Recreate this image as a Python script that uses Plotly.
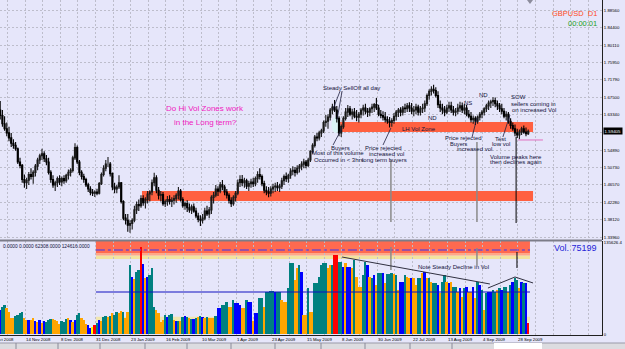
import plotly.graph_objects as go

# ---------------- data ----------------
bars = list(range(6, 247))  # bar number in chart (no weekend gaps)

opens = [
 1.645,1.632,1.612,1.600,1.590,1.578,1.565,1.560,1.552,1.520,
 1.512,1.478,1.470,1.476,1.490,1.485,1.495,1.510,1.525,1.535,
 1.540,1.528,1.520,1.495,1.478,1.465,1.470,1.480,1.472,1.480,
 1.475,1.488,1.495,1.500,1.530,1.555,1.520,1.495,1.485,1.478,
 1.465,1.455,1.447,1.445,1.448,1.445,1.468,1.490,1.505,1.515,
 1.515,1.492,1.460,1.455,1.460,1.470,1.425,1.385,1.380,1.368,
 1.372,1.380,1.405,1.418,1.415,1.432,1.422,1.430,1.443,1.448,
 1.470,1.482,1.452,1.440,1.442,1.420,1.425,1.430,1.425,1.428,
 1.432,1.440,1.450,1.430,1.415,1.420,1.410,1.405,1.412,1.402,
 1.390,1.382,1.380,1.385,1.402,1.395,1.405,1.435,1.440,1.455,
 1.450,1.465,1.460,1.448,1.440,1.428,1.420,1.435,1.445,1.470,
 1.478,1.470,1.475,1.462,1.468,1.472,1.468,1.480,1.490,1.485,
 1.468,1.452,1.448,1.445,1.455,1.460,1.462,1.458,1.462,1.475,
 1.485,1.480,1.488,1.498,1.500,1.495,1.505,1.510,1.515,1.520,
 1.512,1.525,1.545,1.560,1.580,1.578,1.590,1.595,1.615,1.618,
 1.628,1.645,1.652,1.645,1.625,1.590,1.605,1.625,1.640,1.648,
 1.635,1.640,1.630,1.628,1.635,1.645,1.650,1.642,1.640,1.648,
 1.652,1.658,1.650,1.635,1.632,1.628,1.622,1.618,1.615,1.620,
 1.630,1.640,1.645,1.640,1.650,1.648,1.655,1.650,1.642,1.645,
 1.652,1.640,1.648,1.650,1.660,1.680,1.690,1.695,1.692,1.680,
 1.658,1.650,1.645,1.640,1.650,1.655,1.645,1.640,1.642,1.650,
 1.655,1.645,1.650,1.635,1.630,1.622,1.625,1.618,1.628,1.635,
 1.640,1.648,1.655,1.662,1.665,1.668,1.660,1.655,1.648,1.642,
 1.630,1.635,1.618,1.608,1.600,1.590,1.585,1.592,1.600,1.592,1.588]

highs = [
 1.667,1.645,1.630,1.615,1.605,1.590,1.575,1.568,1.555,1.530,
 1.515,1.490,1.482,1.496,1.505,1.500,1.515,1.530,1.540,1.552,
 1.546,1.537,1.530,1.500,1.488,1.475,1.485,1.488,1.485,1.488,
 1.492,1.502,1.505,1.535,1.565,1.560,1.525,1.500,1.492,1.482,
 1.470,1.462,1.455,1.452,1.456,1.472,1.495,1.512,1.525,1.532,
 1.520,1.495,1.470,1.465,1.488,1.472,1.428,1.395,1.395,1.380,
 1.385,1.415,1.425,1.430,1.440,1.440,1.435,1.450,1.452,1.478,
 1.494,1.488,1.460,1.450,1.448,1.430,1.438,1.440,1.435,1.440,
 1.445,1.460,1.455,1.435,1.425,1.428,1.420,1.418,1.420,1.410,
 1.398,1.392,1.395,1.410,1.415,1.412,1.440,1.448,1.465,1.462,
 1.472,1.477,1.465,1.455,1.445,1.435,1.440,1.450,1.478,1.488,
 1.489,1.482,1.480,1.475,1.480,1.482,1.485,1.498,1.505,1.490,
 1.475,1.462,1.460,1.462,1.468,1.470,1.472,1.468,1.482,1.490,
 1.495,1.492,1.505,1.510,1.508,1.512,1.515,1.522,1.528,1.525,
 1.530,1.548,1.565,1.585,1.590,1.595,1.600,1.620,1.633,1.635,
 1.650,1.660,1.669,1.655,1.630,1.610,1.630,1.650,1.657,1.655,
 1.648,1.650,1.645,1.640,1.650,1.658,1.660,1.650,1.652,1.660,
 1.662,1.674,1.658,1.645,1.642,1.640,1.630,1.628,1.625,1.638,
 1.645,1.650,1.652,1.655,1.660,1.662,1.664,1.662,1.655,1.660,
 1.658,1.655,1.660,1.668,1.685,1.695,1.702,1.706,1.700,1.690,
 1.668,1.660,1.655,1.658,1.665,1.665,1.655,1.650,1.660,1.665,
 1.663,1.660,1.658,1.645,1.640,1.632,1.630,1.632,1.640,1.645,
 1.652,1.660,1.668,1.670,1.676,1.675,1.668,1.662,1.660,1.650,
 1.642,1.640,1.625,1.615,1.610,1.600,1.598,1.605,1.608,1.603,1.598]

lows = [
 1.622,1.605,1.595,1.582,1.570,1.556,1.552,1.547,1.515,1.505,
 1.470,1.458,1.455,1.465,1.478,1.468,1.485,1.500,1.515,1.525,
 1.520,1.512,1.490,1.470,1.458,1.450,1.460,1.465,1.462,1.468,
 1.470,1.478,1.485,1.495,1.525,1.515,1.488,1.478,1.470,1.460,
 1.448,1.440,1.438,1.436,1.440,1.442,1.465,1.485,1.498,1.508,
 1.485,1.452,1.445,1.445,1.455,1.420,1.380,1.370,1.352,1.350,
 1.358,1.375,1.395,1.402,1.410,1.415,1.408,1.420,1.425,1.440,
 1.462,1.445,1.430,1.425,1.415,1.412,1.415,1.418,1.412,1.418,
 1.422,1.430,1.425,1.410,1.405,1.400,1.398,1.395,1.398,1.385,
 1.375,1.366,1.372,1.380,1.390,1.385,1.395,1.420,1.435,1.438,
 1.445,1.452,1.440,1.432,1.420,1.412,1.415,1.425,1.440,1.460,
 1.462,1.458,1.455,1.450,1.458,1.460,1.462,1.470,1.478,1.462,
 1.445,1.440,1.435,1.437,1.445,1.448,1.450,1.448,1.455,1.465,
 1.472,1.470,1.480,1.488,1.485,1.490,1.495,1.500,1.505,1.505,
 1.508,1.520,1.540,1.555,1.570,1.572,1.580,1.590,1.605,1.600,
 1.620,1.635,1.640,1.615,1.582,1.580,1.600,1.620,1.628,1.630,
 1.622,1.625,1.618,1.615,1.625,1.632,1.635,1.628,1.630,1.638,
 1.640,1.645,1.630,1.625,1.620,1.615,1.612,1.603,1.605,1.612,
 1.620,1.628,1.630,1.632,1.638,1.640,1.640,1.635,1.630,1.635,
 1.632,1.632,1.638,1.640,1.655,1.670,1.680,1.685,1.675,1.650,
 1.640,1.635,1.630,1.635,1.640,1.638,1.632,1.630,1.635,1.640,
 1.638,1.635,1.630,1.625,1.615,1.612,1.609,1.612,1.620,1.625,
 1.632,1.640,1.645,1.650,1.655,1.652,1.645,1.640,1.635,1.625,
 1.620,1.612,1.600,1.595,1.582,1.578,1.575,1.585,1.588,1.582,1.585]

closes = [
 1.632,1.612,1.600,1.590,1.578,1.565,1.560,1.552,1.520,1.512,
 1.478,1.470,1.476,1.490,1.485,1.495,1.510,1.525,1.535,1.540,
 1.528,1.520,1.495,1.478,1.465,1.470,1.480,1.472,1.480,1.475,
 1.488,1.495,1.500,1.530,1.555,1.520,1.495,1.485,1.478,1.465,
 1.455,1.447,1.445,1.448,1.445,1.468,1.490,1.505,1.515,1.515,
 1.492,1.460,1.455,1.460,1.470,1.425,1.385,1.380,1.368,1.372,
 1.380,1.405,1.418,1.415,1.432,1.422,1.430,1.443,1.448,1.470,
 1.482,1.452,1.440,1.442,1.420,1.425,1.430,1.425,1.428,1.432,
 1.440,1.450,1.430,1.415,1.420,1.410,1.405,1.412,1.402,1.390,
 1.382,1.380,1.385,1.402,1.395,1.405,1.435,1.440,1.455,1.450,
 1.465,1.460,1.448,1.440,1.428,1.420,1.435,1.445,1.470,1.478,
 1.470,1.475,1.462,1.468,1.472,1.468,1.480,1.490,1.485,1.468,
 1.452,1.448,1.445,1.455,1.460,1.462,1.458,1.462,1.475,1.485,
 1.480,1.488,1.498,1.500,1.495,1.505,1.510,1.515,1.520,1.512,
 1.525,1.545,1.560,1.580,1.578,1.590,1.595,1.615,1.618,1.628,
 1.645,1.652,1.645,1.625,1.590,1.605,1.625,1.640,1.648,1.635,
 1.640,1.630,1.628,1.635,1.645,1.650,1.642,1.640,1.648,1.652,
 1.658,1.650,1.635,1.632,1.628,1.622,1.618,1.615,1.620,1.630,
 1.640,1.645,1.640,1.650,1.648,1.655,1.650,1.642,1.645,1.652,
 1.640,1.648,1.650,1.660,1.680,1.690,1.695,1.692,1.680,1.658,
 1.650,1.645,1.640,1.650,1.655,1.645,1.640,1.642,1.650,1.655,
 1.645,1.650,1.635,1.630,1.622,1.625,1.618,1.628,1.635,1.640,
 1.648,1.655,1.662,1.665,1.668,1.660,1.655,1.648,1.642,1.630,
 1.635,1.618,1.608,1.600,1.590,1.585,1.592,1.600,1.592,1.588,1.59405]

# tick volume in thousands
volumes_k = [
 35.6,40.1,43.0,38.6,32.6,23.7,23.7,26.7,28.2,31.2,
 32.6,23.7,20.8,20.8,20.8,23.7,19.3,17.8,20.8,16.3,
 19.3,17.8,20.8,22.3,22.3,20.8,19.3,14.8,19.3,17.8,
 22.3,23.7,20.8,17.8,20.8,28.2,31.2,23.7,20.8,14.8,
 13.4,8.9,10.4,13.4,16.3,20.8,19.3,25.2,26.7,25.2,
 26.7,31.2,28.2,32.6,31.2,34.1,32.6,23.7,32.6,102.4,
 84.6,81.6,92.0,94.9,129.1,103.9,83.1,84.6,87.5,97.9,
 40.1,35.6,31.2,17.8,20.8,28.2,25.2,28.2,29.7,20.8,
 19.3,19.3,19.3,25.2,26.7,25.2,23.7,22.3,22.3,23.7,
 25.2,26.7,25.2,23.7,25.2,23.7,23.7,23.7,26.7,38.6,
 38.6,43.0,43.0,47.5,40.1,40.1,50.4,46.0,46.0,43.0,
 38.6,38.6,50.4,47.5,47.5,19.3,31.2,31.2,53.4,53.4,
 40.1,62.3,62.3,63.8,63.8,62.3,62.3,62.3,50.4,47.5,
 47.5,68.2,105.3,105.3,80.1,97.9,102.4,92.0,28.2,28.2,
 68.2,32.6,32.6,75.7,75.7,84.6,102.4,105.3,105.3,97.9,
 102.4,102.4,117.2,117.2,106.8,106.8,99.4,105.3,99.4,99.4,
 97.9,109.8,84.6,69.7,69.7,87.5,106.8,102.4,84.6,83.1,
 87.5,72.7,90.5,90.5,90.5,75.7,89.0,89.0,90.5,89.0,
 87.5,65.3,77.1,77.1,87.5,84.6,83.1,83.1,83.1,72.7,
 83.1,83.1,90.5,92.0,83.1,83.1,77.1,75.7,75.7,72.7,
 60.8,77.1,87.5,77.1,75.7,77.1,69.7,69.7,62.3,68.2,
 54.9,68.2,69.7,62.3,62.3,69.7,53.4,77.1,72.7,65.3,
 35.6,60.8,62.3,62.3,65.3,62.3,65.3,68.2,65.3,69.7,
 69.7,62.3,72.7,77.1,83.1,80.1,68.2,77.1,75.7,75.7,16.3]

# volume indicator class per bar: T=teal, O=orange, B=blue, R=red, Y=yellow
volume_class = list(
 "BTTOOOOTTT" "TOOBOOBOBO" "BTTTOOOOTT" "TOBOBTTOOO" "BBYRTBOTTO"
 "TOTTOOTOOT" "BOTTRBOBTT" "TOOOOTBTTO" "BTOTBTOTBT" "OTBOTOOOTB"
 "BTTTOOTBBB" "OOTBBOBBTT" "OTTTTBTTOO" "OTTTOOTBOO" "TOOTTTTTTO"
 "OTRRTTBOBB" "OTOOOTTBOT" "BOTTBOTTTO" "TOBBTOOBOO" "TTOBOTOTTB"
 "OTTOBOTTOB" "OTBOOBOTBT" "OTBBTTOTBT" "TOTBTTOBTBR")

date_labels = ["23 Oct 2008", "14 Nov 2008", "8 Dec 2008", "31 Dec 2008", "23 Jan 2009",
               "16 Feb 2009", "10 Mar 2009", "1 Apr 2009", "23 Apr 2009", "15 May 2009",
               "8 Jun 2009", "30 Jun 2009", "22 Jul 2009", "13 Aug 2009", "4 Sep 2009",
               "28 Sep 2009"]
date_bars = [2, 18, 34, 50, 66, 82, 98, 114, 130, 146, 162, 178, 194, 210, 226, 242]

price_tick_vals = [1.3396, 1.3812, 1.4228, 1.4657, 1.5073, 1.5489, 1.59115, 1.6334,
                   1.6750, 1.7179, 1.7595, 1.8011, 1.8440, 1.8856]
price_tick_text = ["1.33960", "1.38120", "1.42280", "1.46570", "1.50730", "1.54890", "",
                   "1.63340", "1.67500", "1.71790", "1.75950", "1.80110", "1.84400", "1.88560"]
last_price = 1.59405
vol_axis_top = 135.6264
vol_levels_k = [62.308, 124.616]
upper_zone = (1.5922, 1.6162)
lower_zone = (1.4262, 1.4503)

# ---------------- styling ----------------
BG = "#E6E6FA"
GRID = "#BDBDCB"
TXT = "#12123A"
FONT = "Liberation Sans, Arial, sans-serif"
palette = {"T": "#008080", "O": "#FFA500", "B": "#0000FF", "R": "#FF0000", "Y": "#FFFF00"}

X_MIN, X_MAX = 5.909, 279.545
Y_MIN, Y_MAX = 1.33245, 1.90965
V_MIN, V_MAX = -1.48, 137.97
PW, PH = 602.0, 335.0


def px_x(b):
    return (b - X_MIN) / (X_MAX - X_MIN)


fig = go.Figure()
fig.add_trace(go.Candlestick(
    x=bars, open=opens, high=highs, low=lows, close=closes,
    xaxis="x", yaxis="y", whiskerwidth=0,
    increasing=dict(line=dict(color="#1a1a1a", width=1.1), fillcolor="#9A9A9A"),
    decreasing=dict(line=dict(color="#000000", width=1.1), fillcolor="#000000"),
    hoverinfo="skip"))
fig.add_trace(go.Bar(
    x=bars, y=volumes_k, xaxis="x2", yaxis="y2", width=0.85,
    marker=dict(color=[palette[c] for c in volume_class], line=dict(width=0)),
    hoverinfo="skip"))

shapes = []
# price zones
for lo, hi, x0 in [(upper_zone[0], upper_zone[1], 160.5), (lower_zone[0], lower_zone[1], 70.45)]:
    shapes.append(dict(type="rect", xref="x", yref="y", x0=x0, x1=248.2, y0=lo, y1=hi,
                       fillcolor="#FF6040", line=dict(width=0), layer="between"))
# glow around sell-off bar
shapes.append(dict(type="circle", xref="x", yref="y", x0=156.6, x1=160.6, y0=1.590, y1=1.628,
                   fillcolor="#D6F6F4", opacity=0.8, line=dict(width=0), layer="between"))
# volume bands
shapes += [
    dict(type="rect", xref="x2", yref="y2", x0=49.5, x1=246.8, y0=111.3, y1=116.6,
         fillcolor="#F2E4A0", line=dict(width=0), layer="below"),
    dict(type="rect", xref="x2", yref="y2", x0=49.5, x1=246.8, y0=116.6, y1=120.2,
         fillcolor="#FFA888", line=dict(width=0), layer="below"),
    dict(type="rect", xref="x2", yref="y2", x0=49.5, x1=246.8, y0=120.2, y1=V_MAX,
         fillcolor="#FF6A50", line=dict(width=0), layer="below"),
    dict(type="rect", xref="x2", yref="y2", x0=49.5, x1=246.8, y0=17.0, y1=25.5,
         fillcolor="#F0E6B0", line=dict(width=0), layer="below"),
    dict(type="line", xref="x2", yref="y2", x0=49.5, x1=246.8, y0=vol_levels_k[1], y1=vol_levels_k[1],
         line=dict(color="#7A48C0", width=1.5, dash="dashdot")),
    dict(type="line", xref="x2", yref="y2", x0=49.5, x1=246.8, y0=vol_levels_k[0], y1=vol_levels_k[0],
         line=dict(color="#1010C0", width=1)),
]
# vertical marker lines
for b, y0, y1, col in [(183.6, 1.3757, 1.5249, "#8A8A8A"), (222.7, 1.3757, 1.5681, "#8A8A8A"),
                       (240.5, 1.3733, 1.5801, "#000000")]:
    shapes.append(dict(type="line", xref="x", yref="y", x0=b, x1=b, y0=y0, y1=y1,
                       line=dict(color=col, width=1.5 if col != "#000000" else 1)))
for b, y0, y1, col in [(183.6, 94.9, 129.1, "#8A8A8A"), (222.7, 100.9, 127.6, "#8A8A8A"),
                       (240.9, 97.9, 121.6, "#000000")]:
    shapes.append(dict(type="line", xref="x2", yref="y2", x0=b, x1=b, y0=y0, y1=y1,
                       line=dict(color=col, width=1.5 if col != "#000000" else 1)))
# arrow lines from notes
for x0, y0, x1, y1 in [(160.5, 1.6908, 157.3, 1.6475), (161.4, 1.6908, 159.1, 1.6211),
                       (157.3, 1.5609, 161.4, 1.6018), (180.0, 1.5609, 183.6, 1.6018),
                       (220.5, 1.5802, 222.7, 1.6259), (234.5, 1.5802, 237.7, 1.6331)]:
    shapes.append(dict(type="line", xref="x", yref="y", x0=x0, y0=y0, x1=x1, y1=y1,
                       line=dict(color="#202040", width=0.8)))
# pink line
shapes.append(dict(type="line", xref="x", yref="y", x0=241.4, x1=252.7, y0=1.5730, y1=1.5730,
                   line=dict(color="#E070C0", width=1)))
# volume trend lines
for x0, y0, x1, y1 in [(161.4, 114.2, 228.6, 74.2), (227.7, 68.2, 240.0, 84.6), (240.0, 84.6, 248.2, 75.7)]:
    shapes.append(dict(type="line", xref="x2", yref="y2", x0=x0, y0=y0, x1=x1, y1=y1,
                       line=dict(color="#303040", width=1)))
# panel separator
sep = 1 - 240.5 / PH
shapes.append(dict(type="line", xref="paper", yref="paper", x0=0, x1=1, y0=sep, y1=sep,
                   line=dict(color="#7C7C88", width=2)))
# shift marker at top
shapes.append(dict(type="path", xref="paper", yref="paper",
                   path=f"M {527/PW} 1 L {533/PW} 1 L {530/PW} {1-4/PH} Z",
                   fillcolor="#8C8C9C", line=dict(width=0)))
# bottom tab strip
y_top, y_bot = -(343 - PH) / PH, -(349 - PH) / PH
shapes.append(dict(type="rect", xref="paper", yref="paper", x0=0, x1=625 / PW, y0=y_bot, y1=y_top,
                   fillcolor="#DCDCE0", line=dict(width=0)))
shapes.append(dict(type="line", xref="paper", yref="paper", x0=0, x1=625 / PW, y0=y_top, y1=y_top,
                   line=dict(color="#9A9AA8", width=1)))
shapes.append(dict(type="rect", xref="paper", yref="paper", x0=494 / PW, x1=542 / PW, y0=y_bot, y1=y_top,
                   fillcolor="#FFFFFF", line=dict(width=0)))
for sx in [16, 58, 100, 145, 187, 231, 275, 321, 365, 410, 452]:
    shapes.append(dict(type="line", xref="paper", yref="paper", x0=sx / PW, x1=sx / PW,
                       y0=y_bot, y1=y_top, line=dict(color="#8A8A9A", width=1)))

annotations = []


def note(text, x, y, size=6, color=TXT, anchor="center", xref="x", yref="y", **kw):
    annotations.append(dict(text=text, x=x, y=y, xref=xref, yref=yref, showarrow=False,
                            xanchor=anchor, yanchor="middle",
                            font=dict(size=size, color=color, family=FONT), **kw))


note("Do Hi Vol Zones work", 99.1, 1.6499, size=8, color="#F020C0")
note("in the Long term?", 99.1, 1.6162, size=8, color="#F020C0")
note("Steady SellOff all day", 165.5, 1.6980)
note("Buyers", 160.5, 1.5537)
note("Most of this volume", 146.8, 1.5405, anchor="left")
note("Occurred in < 3hrs", 147.7, 1.5260, anchor="left")
note("Price rejected", 180.0, 1.5537)
note("increased vol", 181.4, 1.5393)
note("long term buyers", 180.5, 1.5260)
note("LH Vol Zone", 187.7, 1.5994, anchor="left")
note("ND", 202.3, 1.6259)
note("NS", 218.6, 1.6620)
note("ND", 225.5, 1.6812)
note("SOW", 241.8, 1.6764)
note("sellers coming in", 248.6, 1.6595)
note("on increased Vol", 248.6, 1.6463)
note("Price rejected", 216.8, 1.5778)
note("Buyers", 214.5, 1.5640, size=5.6)
note("increased vol", 221.8, 1.5520)
note("Test", 233.2, 1.5754)
note("low vol", 233.6, 1.5633)
note("Volume peaks here", 240.5, 1.5321)
note("then declines again", 240.5, 1.5200)
note("GBPUSD  D1", 599 / PW, 1 - 14 / PH, size=7.5, color="#FF4A1C", anchor="right",
     xref="paper", yref="paper")
note("00:00:01", 599 / PW, 1 - 23 / PH, size=7.5, color="#1EA01E", anchor="right",
     xref="paper", yref="paper")
note("Note Steady Decline in Vol", 195.0, 99.4, anchor="left", xref="x2", yref="y2")
note("Vol. 75199", 599 / PW, 1 - 247.5 / PH, size=9, color="#2424D8", anchor="right",
     xref="paper", yref="paper")
note("0.0000 0.0000 62308.0000 124616.0000", 92 / PW, 1 - 247 / PH, size=4.8, anchor="right",
     xref="paper", yref="paper")
# current price box
annotations.append(dict(text=f"{last_price:.5f}", x=1, y=last_price, xref="paper", yref="y",
                        xanchor="left", yanchor="middle", showarrow=False, xshift=1,
                        bgcolor="#000000", borderpad=0.6,
                        font=dict(size=4.4, color="#FFFFFF", family=FONT)))
# date labels (left aligned at the bar, like the terminal; the first one runs off the left edge)
for lab, b in zip(date_labels, date_bars):
    annotations.append(dict(text=lab, x=px_x(b), y=-(339.5 - PH) / PH, xref="paper", yref="paper",
                            xanchor="left", yanchor="middle", showarrow=False, xshift=-3,
                            font=dict(size=4.3, color="#000000", family=FONT)))

fig.update_layout(
    width=625, height=349,
    margin=dict(l=0, r=23, t=0, b=14, pad=0),
    paper_bgcolor=BG, plot_bgcolor=BG,
    showlegend=False, bargap=0,
    font=dict(family=FONT, color="#000000"),
    xaxis=dict(domain=[0, 1], anchor="y", range=[X_MIN, X_MAX], tickmode="linear", tick0=1.3,
               dtick=8, showticklabels=False, ticks="", showgrid=True, gridcolor=GRID,
               griddash="2px,2px", gridwidth=1, zeroline=False, rangeslider=dict(visible=False)),
    xaxis2=dict(domain=[0, 1], anchor="y2", range=[X_MIN, X_MAX], matches="x", tickmode="linear",
                tick0=1.3, dtick=8, showticklabels=False, ticks="", showgrid=True, gridcolor=GRID,
                griddash="2px,2px", gridwidth=1, zeroline=False, showline=True,
                linecolor="#202020", linewidth=1),
    yaxis=dict(domain=[95 / PH, 1], anchor="x", range=[Y_MIN, Y_MAX], side="right",
               tickmode="array", tickvals=price_tick_vals, ticktext=price_tick_text,
               tickfont=dict(size=4.3, color="#000000"), ticks="", showgrid=True,
               gridcolor=GRID, griddash="2px,2px", gridwidth=1, zeroline=False,
               showline=True, linecolor="#202020", linewidth=1),
    yaxis2=dict(domain=[0, 94 / PH], anchor="x2", range=[V_MIN, V_MAX], side="right",
                tickmode="array", tickvals=[vol_axis_top, 0], ticktext=["135626.4", "0"],
                tickfont=dict(size=4.3, color="#000000"), ticks="", showgrid=False,
                zeroline=False, showline=True, linecolor="#202020", linewidth=1),
    shapes=shapes, annotations=annotations,
)

fig.write_html("out.html")
